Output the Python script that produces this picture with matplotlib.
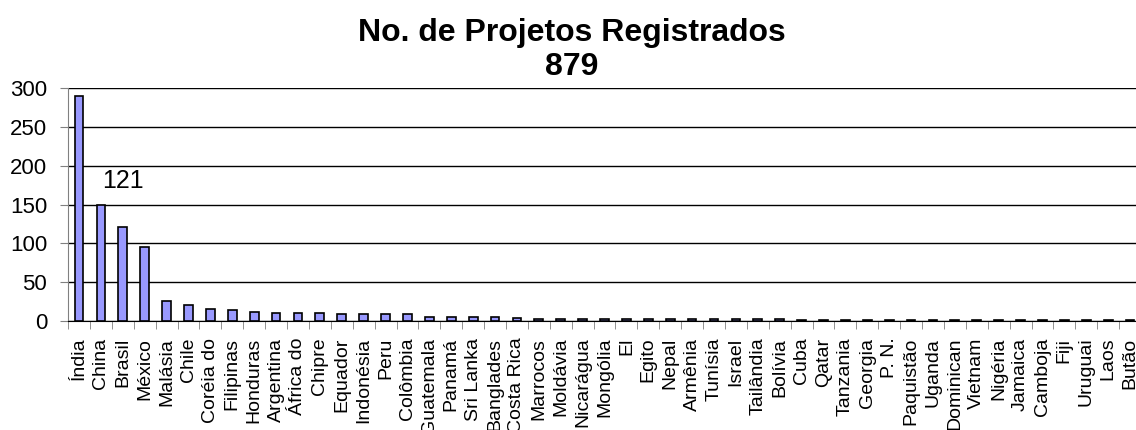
import matplotlib.pyplot as plt
import numpy as np

plt.rcParams['font.family'] = ['Liberation Sans', 'DejaVu Sans']

paises = ['Índia', 'China', 'Brasil', 'México', 'Malásia', 'Chile', 'Coréia do', 'Filipinas',
          'Honduras', 'Argentina', 'África do', 'Chipre', 'Equador', 'Indonésia', 'Peru',
          'Colômbia', 'Guatemala', 'Panamá', 'Sri Lanka', 'Banglades', 'Costa Rica', 'Marrocos',
          'Moldávia', 'Nicarágua', 'Mongólia', 'El', 'Egito', 'Nepal', 'Armênia', 'Tunísia',
          'Israel', 'Tailândia', 'Bolívia', 'Cuba', 'Qatar', 'Tanzania', 'Georgia', 'P. N.',
          'Paquistão', 'Uganda', 'Dominican', 'Vietnam', 'Nigéria', 'Jamaica', 'Camboja', 'Fiji',
          'Uruguai', 'Laos', 'Butão']
projetos = [290, 150, 121, 95, 26, 21, 15, 14, 11, 10, 10, 10, 9, 9, 9, 9, 5, 5, 5, 5, 4,
            3, 3, 3, 3, 3, 3, 2, 2, 2, 2, 2, 2, 1, 1, 1, 1, 1, 1, 1, 1, 1, 1, 1, 1, 1, 1, 1, 1]

fig = plt.figure(figsize=(11.36, 4.3), dpi=100)
ax = fig.add_axes([0.0599, 0.2535, 0.9445, 0.5418])

x = np.arange(len(paises))
ax.bar(x, projetos, width=0.4, color='#9999ff', edgecolor='black', linewidth=1.2, zorder=3)
ax.text(2, 165, '121', fontsize=18, ha='center', va='bottom')

ax.set_xlim(-0.5, len(paises) - 0.5)
ax.set_ylim(0, 300)
ax.set_yticks(range(0, 301, 50))
ax.tick_params(axis='y', labelsize=16, length=6, color='gray', pad=9)
ax.set_xticks(x)
ax.set_xticklabels(paises, rotation=90, fontsize=14)
ax.tick_params(axis='x', which='major', length=0, pad=12)
ax.set_xticks(np.arange(len(paises) + 1) - 0.5, minor=True)
ax.tick_params(axis='x', which='minor', length=6, color='gray')
ax.grid(axis='y', color='black', linewidth=1, zorder=0)
for s in ['top', 'right']:
    ax.spines[s].set_visible(False)
ax.spines['left'].set_color('gray')
ax.spines['bottom'].set_color('black')

fig.text(0.503, 0.809, 'No. de Projetos Registrados\n879', fontsize=23, fontweight='bold',
         ha='center', va='bottom', linespacing=1.2)
plt.savefig('out.png', dpi=100)
